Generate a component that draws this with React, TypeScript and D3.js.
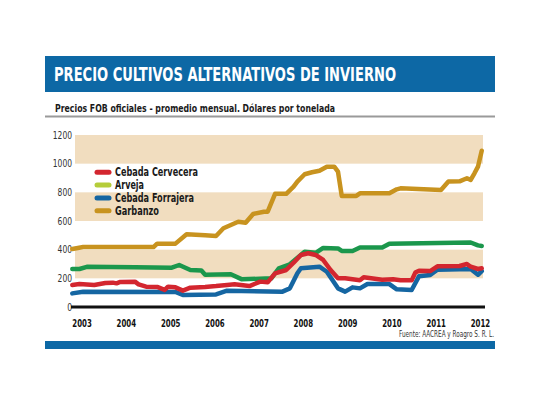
import React from "react";
import * as d3 from "d3";

const title = "PRECIO CULTIVOS ALTERNATIVOS DE INVIERNO";
const subtitle = "Precios FOB oficiales - promedio mensual. Dólares por tonelada";
const source = "Fuente: AACREA y Roagro S. R. L.";

const yTicks = [0, 200, 400, 600, 800, 1000, 1200];
const bandRanges: [number, number][] = [[200, 400], [600, 800], [1000, 1200]];
const years = [2003, 2004, 2005, 2006, 2007, 2008, 2009, 2010, 2011, 2012];

const seriesNames = ["Cebada Cervecera", "Arveja", "Cebada Forrajera", "Garbanzo"];
const lineColors = ["#d3262f", "#1b974c", "#1566a2", "#c8931f"];
const legendColors = ["#d3262f", "#b5cd3a", "#1566a2", "#c8931f"];

const cebadaCervecera: [string, number][] = [
  ["2003-01", 154], ["2003-03", 160], ["2003-07", 154], ["2003-10", 168], ["2003-12", 170],
  ["2004-01", 165], ["2004-02", 175], ["2004-06", 177], ["2004-07", 158], ["2004-09", 142],
  ["2004-12", 140], ["2005-02", 119], ["2005-03", 142], ["2005-05", 137], ["2005-07", 114],
  ["2005-09", 135], ["2006-01", 140], ["2006-04", 146], ["2006-07", 154], ["2006-09", 158],
  ["2007-01", 146], ["2007-04", 177], ["2007-06", 172], ["2007-08", 235], ["2007-11", 258],
  ["2008-01", 309], ["2008-03", 363], ["2008-05", 375], ["2008-07", 363], ["2008-09", 328],
  ["2008-11", 258], ["2009-01", 200], ["2009-03", 200], ["2009-05", 193], ["2009-07", 186],
  ["2009-08", 207], ["2009-10", 200], ["2010-01", 190], ["2010-04", 193], ["2010-06", 186],
  ["2010-09", 186], ["2010-10", 240], ["2010-11", 253], ["2011-02", 251], ["2011-04", 284],
  ["2011-10", 286], ["2011-12", 300], ["2012-01", 281], ["2012-03", 265], ["2012-04", 270],
];

const arveja: [string, number][] = [
  ["2003-01", 265], ["2003-03", 265], ["2003-05", 280], ["2004-06", 278], ["2005-04", 274],
  ["2005-06", 293], ["2005-09", 258], ["2005-12", 255], ["2006-01", 225], ["2006-08", 228],
  ["2006-11", 193], ["2007-07", 200], ["2007-09", 270], ["2007-12", 298], ["2008-04", 386],
  ["2008-07", 378], ["2008-09", 412], ["2009-01", 409], ["2009-02", 391], ["2009-05", 391],
  ["2009-07", 415], ["2010-01", 415], ["2010-03", 442], ["2012-01", 450], ["2012-03", 430],
  ["2012-04", 426],
];

const cebadaForrajera: [string, number][] = [
  ["2003-01", 95], ["2003-04", 107], ["2005-05", 105], ["2005-07", 84], ["2006-04", 88],
  ["2006-07", 114], ["2007-10", 107], ["2007-12", 130], ["2008-02", 235], ["2008-03", 270],
  ["2008-08", 281], ["2008-10", 246], ["2009-01", 130], ["2009-03", 107], ["2009-05", 137],
  ["2009-07", 130], ["2009-09", 160], ["2010-03", 160], ["2010-05", 123], ["2010-09", 119],
  ["2010-11", 215], ["2011-02", 223], ["2011-04", 260], ["2012-01", 265], ["2012-03", 225],
  ["2012-04", 250],
];

const garbanzo: [string, number][] = [
  ["2003-01", 405], ["2003-04", 418], ["2004-11", 418], ["2004-12", 442], ["2005-05", 442],
  ["2005-08", 507], ["2006-01", 500], ["2006-04", 495], ["2006-06", 549], ["2006-08", 572],
  ["2006-10", 595], ["2006-12", 588], ["2007-02", 649], ["2007-05", 665], ["2007-06", 665],
  ["2007-08", 790], ["2007-11", 790], ["2008-01", 840], ["2008-02", 875], ["2008-04", 926],
  ["2008-06", 940], ["2008-08", 951], ["2008-10", 979], ["2008-12", 979], ["2009-01", 944],
  ["2009-02", 775], ["2009-06", 775], ["2009-07", 793], ["2010-03", 793], ["2010-05", 821],
  ["2010-06", 828], ["2011-05", 816], ["2011-07", 875], ["2011-10", 877], ["2011-12", 898],
  ["2012-01", 887], ["2012-02", 933], ["2012-03", 979], ["2012-04", 1090],
];

const seriesData = [cebadaCervecera, arveja, cebadaForrajera, garbanzo];
const drawOrder = [1, 2, 0, 3];
const legendWidths = [83, 29, 79, 44];

const FONT = "'Liberation Sans Narrow', 'DejaVu Sans Condensed', 'Roboto Condensed', Roboto, sans-serif";
const parse = d3.timeParse("%Y-%m");

export default function App() {
  const x = d3
    .scaleTime()
    .domain([new Date(2003, 0, 1), new Date(2012, 0, 1)])
    .range([72.3, 470.7]);
  const y = d3.scaleLinear().domain([0, 1200]).range([307, 135]);

  const line = d3
    .line<[string, number]>()
    .x((d) => x(parse(d[0]) as Date))
    .y((d) => y(d[1]))
    .curve(d3.curveLinear);

  return (
    <svg
      width={540}
      height={405}
      style={{ position: "absolute", left: 0, top: 0, background: "#fff" }}
      fontFamily={FONT}
    >
      <rect x={0} y={0} width={540} height={405} fill="#fff" />
      {/* header */}
      <rect x={45} y={56} width={450} height={36} fill="#0d68a5" />
      <text x={54} y={81} fontSize={19} fontWeight="bold" fill="#fff" textLength={342} lengthAdjust="spacingAndGlyphs">
        {title}
      </text>
      <text x={55} y={112} fontSize={11} fontWeight="bold" fill="#1a1a1a" textLength={280} lengthAdjust="spacingAndGlyphs">
        {subtitle}
      </text>
      <line x1={45} x2={495} y1={116.5} y2={116.5} stroke="#9a9a9a" strokeWidth={2} />

      {/* bands */}
      {bandRanges.map(([a, b], i) => (
        <rect key={i} x={75} y={y(b)} width={408} height={y(a) - y(b)} fill="#f1ddbf" />
      ))}

      {/* y labels */}
      {yTicks.map((t) => (
        <text
          key={t}
          x={72}
          y={y(t)}
          dy="0.35em"
          textAnchor="end"
          fontSize={10.5}
          fill="#333"
          textLength={String(t).length * 4.8}
          lengthAdjust="spacingAndGlyphs"
        >
          {t}
        </text>
      ))}

      {/* lines */}
      {drawOrder.map((i) => (
        <path
          key={i}
          d={line(seriesData[i]) || ""}
          fill="none"
          stroke={lineColors[i]}
          strokeWidth={4.5}
          strokeLinejoin="round"
          strokeLinecap="round"
        />
      ))}

      {/* axis */}
      <line x1={71} x2={485} y1={307} y2={307} stroke="#111" strokeWidth={3} />
      {years.map((yr) => (
        <text
          key={yr}
          x={x(new Date(yr, 0, 1))}
          y={327}
          fontSize={10.5}
          fontWeight="bold"
          fill="#111"
          textLength={19.5}
          lengthAdjust="spacingAndGlyphs"
        >
          {yr}
        </text>
      ))}

      {/* legend */}
      {seriesNames.map((n, i) => (
        <g key={n} transform={`translate(0, ${172.3 + i * 12.8})`}>
          <line x1={97} x2={109} y1={0} y2={0} stroke={legendColors[i]} strokeWidth={5} strokeLinecap="round" />
          <text
            x={115}
            y={0}
            dy="0.36em"
            fontSize={11.5}
            fontWeight="bold"
            fill="#1a1a1a"
            textLength={legendWidths[i]}
            lengthAdjust="spacingAndGlyphs"
          >
            {n}
          </text>
        </g>
      ))}

      <text x={494} y={337} textAnchor="end" fontSize={8} fill="#333" textLength={95} lengthAdjust="spacingAndGlyphs">
        {source}
      </text>
      <rect x={45} y={341} width={450} height={8} fill="#0d68a5" />
    </svg>
  );
}
